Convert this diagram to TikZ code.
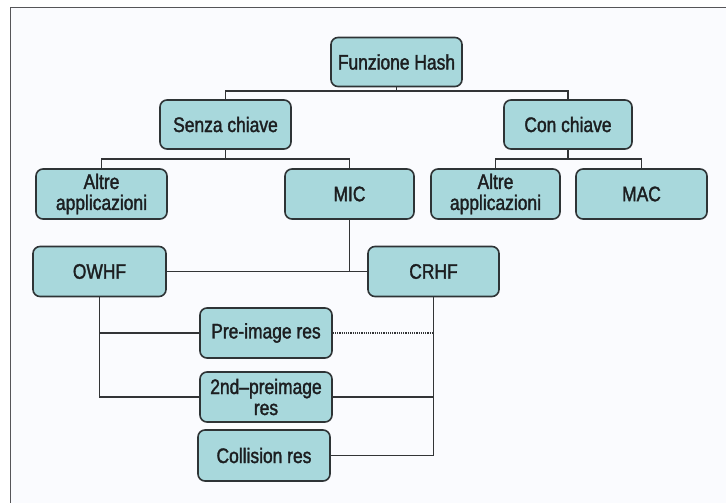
\documentclass[tikz,border=0pt]{standalone}
\usepackage{fontspec}
\setmainfont{Liberation Sans}[FakeStretch=0.83, FakeBold=1.6]
\definecolor{boxfill}{RGB}{168,216,220}
\definecolor{boxline}{RGB}{46,52,54}
\definecolor{wire}{RGB}{50,52,54}
\definecolor{framecol}{RGB}{85,85,88}
\definecolor{paper}{RGB}{250,251,254}
\definecolor{ink}{RGB}{28,30,32}
\tikzset{
  hbox/.style={draw=boxline, fill=boxfill, rounded corners=7pt, line width=1.6pt,
    minimum width=131pt, minimum height=49pt, inner sep=0pt, align=center,
    text=ink, font=\fontsize{21}{21}\selectfont},
  wire/.style={draw=wire, line width=1.6pt},
  dotwire/.style={draw=wire, line width=1.6pt, dash pattern=on 1.2pt off 1pt}
}
\begin{document}
\begin{tikzpicture}[x=1pt, y=-1pt]
\useasboundingbox (0,0) rectangle (726,503);
% paper and frame
\fill[paper] (10.5,7.5) rectangle (726,503);
\draw[framecol, line width=1.6pt] (10.5,503) -- (10.5,7.5) -- (726,7.5);

% boxes
\node[hbox] (hash)   at (396.5,62)  {Funzione Hash};
\node[hbox] (senza)  at (225.5,124.5) {Senza chiave};
\node[hbox, minimum width=128pt] (con) at (568,124.5) {Con chiave};
\node[hbox, minimum height=50pt] (altreL) at (101.5,194) {Altre\\applicazioni};
\node[hbox, minimum width=129pt, minimum height=50pt] (mic) at (349.5,194) {MIC};
\node[hbox, minimum width=129pt, minimum height=50pt] (altreR) at (495.5,194) {Altre\\applicazioni};
\node[hbox, minimum height=50pt] (mac) at (641.5,194) {MAC};
\node[hbox, minimum width=133pt, minimum height=50pt] (owhf) at (99.5,271.5) {OWHF};
\node[hbox, minimum height=50pt] (crhf) at (433.5,271.5) {CRHF};
\node[hbox, minimum width=132pt, minimum height=50pt] (pre) at (266,333) {Pre-image res};
\node[hbox, minimum width=132pt, minimum height=50pt] (second) at (266,397) {2nd–preimage\\res};
\node[hbox, minimum width=132pt, minimum height=51pt] (coll) at (264,455.5) {Collision res};

% tree connectors
\coordinate (b1) at (396.5,91);
\coordinate (b2) at (225.5,159);
\coordinate (b3) at (568,159);
\draw[wire] (hash.south) -- (b1);
\draw[wire] (senza.north) |- (b1) -| (con.north);
\draw[wire] (senza.south) -- (b2);
\draw[wire] (altreL.north) |- (b2) -| (mic.north);
\draw[wire] (con.south) -- (b3);
\draw[wire] (altreR.north) |- (b3) -| (mac.north);

% MIC branch
\draw[wire] (owhf.east) -- (crhf.west);
\draw[wire] (mic.south) -- (mic.south |- owhf.east);

% properties
\draw[wire] (owhf.south) |- (second.west);
\draw[wire] (owhf.south |- pre.west) -- (pre.west);
\draw[wire] (crhf.south) |- (coll.east);
\draw[wire] (second.east) -- (second.east -| crhf.south);
\draw[dotwire] (pre.east) -- (pre.east -| crhf.south);
\end{tikzpicture}
\end{document}
